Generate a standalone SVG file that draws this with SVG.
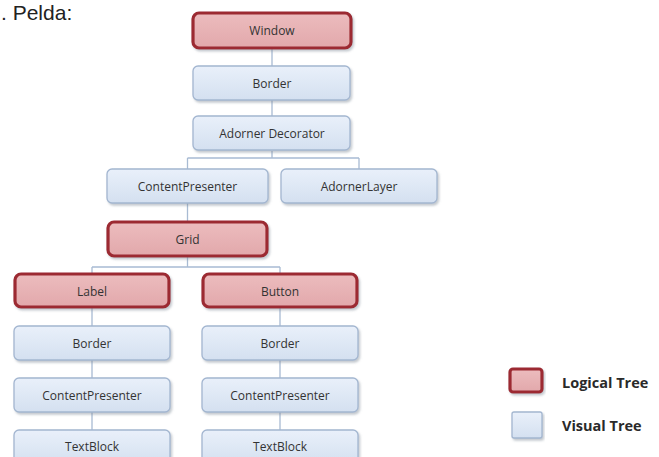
<svg xmlns="http://www.w3.org/2000/svg" width="659" height="457" viewBox="0 0 659 457">
<defs>
<linearGradient id="gb" x1="0" y1="0" x2="0" y2="1">
<stop offset="0" stop-color="#e9f0fa"/>
<stop offset="1" stop-color="#d4e0f0"/>
</linearGradient>
<linearGradient id="gr" x1="0" y1="0" x2="0" y2="1">
<stop offset="0" stop-color="#ecbcbe"/>
<stop offset="1" stop-color="#e2a8ab"/>
</linearGradient>
<filter id="sh" x="-10%" y="-20%" width="120%" height="150%">
<feDropShadow dx="1.5" dy="2" stdDeviation="1.2" flood-color="#7a8694" flood-opacity="0.45"/>
</filter>
</defs>
<style>
.v{fill:url(#gb);stroke:#a3b6d0;stroke-width:1.3;filter:url(#sh)}
.l{fill:url(#gr);stroke:#9c2b33;stroke-width:3.2;filter:url(#sh)}
.t{font-family:"Open Sans","DejaVu Sans",sans-serif;font-size:12px;fill:#333;text-anchor:middle}
.c{stroke:#a8bbd3;stroke-width:1.3;fill:none}
.g{font-family:"Open Sans","DejaVu Sans",sans-serif;font-size:14.5px;font-weight:bold;fill:#2a2a2a}
</style>
<rect width="659" height="457" fill="#ffffff"/>
<text x="1" y="19.5" font-family="Liberation Sans, Arial, sans-serif" font-size="21" fill="#222">. Pelda:</text>
<g id="connectors">
<path class="c" d="M272 49V66M272 100V116M272 151V158M187.5 158H359M187.5 158V169M359 158V169M187.5 203V221M187.5 257V267M92 267H280M92 267V273M280 267V273M92 308V326M92 360V378M92 412V430M280 308V326M280 360V378M280 412V430"/>
</g>
<g id="window"><rect class="l" x="193" y="13" width="158" height="35" rx="6"/><text class="t" x="272" y="35">Window</text></g>
<g id="border1"><rect class="v" x="193" y="66" width="157" height="34" rx="5"/><text class="t" x="272" y="87.5">Border</text></g>
<g id="adornerdecorator"><rect class="v" x="193" y="116" width="157" height="34" rx="5"/><text class="t" x="272" y="137.5">Adorner Decorator</text></g>
<g id="contentpresenter1"><rect class="v" x="107" y="169" width="161" height="34" rx="5"/><text class="t" x="187.5" y="190.5">ContentPresenter</text></g>
<g id="adornerlayer"><rect class="v" x="281" y="169" width="156" height="34" rx="5"/><text class="t" x="359" y="190.5">AdornerLayer</text></g>
<g id="grid"><rect class="l" x="108" y="222" width="159" height="34" rx="6"/><text class="t" x="187.5" y="243.5">Grid</text></g>
<g id="label"><rect class="l" x="15" y="274" width="154" height="33" rx="6"/><text class="t" x="92" y="295.5">Label</text></g>
<g id="button"><rect class="l" x="203" y="274" width="154" height="33" rx="6"/><text class="t" x="280" y="295.5">Button</text></g>
<g id="border2"><rect class="v" x="14" y="326" width="156" height="34" rx="5"/><text class="t" x="92" y="347.5">Border</text></g>
<g id="border3"><rect class="v" x="202" y="326" width="156" height="34" rx="5"/><text class="t" x="280" y="347.5">Border</text></g>
<g id="contentpresenter2"><rect class="v" x="14" y="378" width="156" height="34" rx="5"/><text class="t" x="92" y="399.5">ContentPresenter</text></g>
<g id="contentpresenter3"><rect class="v" x="202" y="378" width="156" height="34" rx="5"/><text class="t" x="280" y="399.5">ContentPresenter</text></g>
<g id="textblock1"><rect class="v" x="14" y="430" width="156" height="34" rx="5"/><text class="t" x="92" y="451">TextBlock</text></g>
<g id="textblock2"><rect class="v" x="202" y="430" width="156" height="34" rx="5"/><text class="t" x="280" y="451">TextBlock</text></g>
<g id="legend">
<rect class="l" x="510" y="369" width="32" height="23" rx="3"/>
<text class="g" x="562" y="388">Logical Tree</text>
<rect class="v" x="512" y="412" width="30" height="26" rx="2"/>
<text class="g" x="562" y="431">Visual Tree</text>
</g>
</svg>
